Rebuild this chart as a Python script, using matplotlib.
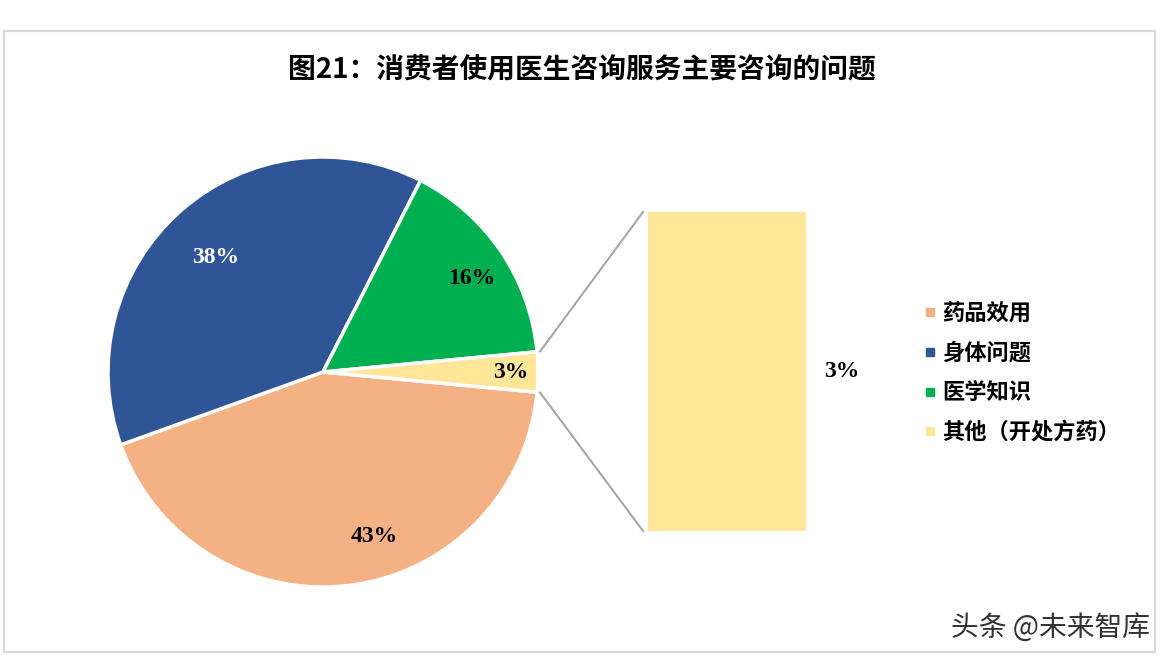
import numpy as np
import matplotlib
matplotlib.use("Agg")
import matplotlib.pyplot as plt
from matplotlib.lines import Line2D
from matplotlib.patches import Rectangle

# data
labels = ["药品效用", "身体问题", "医学知识", "其他（开处方药）"]
values = [43, 38, 16, 3]
colors = ["#F4B183", "#2F5597", "#00B050", "#FFE699"]
bar_labels = ["其他（开处方药）"]
bar_values = [3]
title = "图21：消费者使用医生咨询服务主要咨询的问题"

cjk = ["Noto Sans CJK SC", "DejaVu Sans"]
serif = ["Liberation Serif", "DejaVu Serif"]

W, H = 1170, 661
fig = plt.figure(figsize=(W / 100, H / 100), dpi=100)
ax = fig.add_axes([0, 0, 1, 1])

# border of the chart area
fig.patches.append(Rectangle((4 / W, (H - 652) / H), 1151 / W, 621 / H,
                             transform=fig.transFigure, fill=False,
                             edgecolor="#D9D9D9", linewidth=1.6))

fig.text(582 / W, 1 - 70 / H, title, ha="center", va="center",
         fontsize=20, fontweight="bold", family=cjk)

# pie
cx, cy, R = 323, H - 372, 215
half = values[-1] / sum(values) * 360 / 2
wedges, _ = ax.pie(values, colors=colors, center=(cx, cy), radius=R,
                   startangle=-half, counterclock=False,
                   wedgeprops=dict(edgecolor="white", linewidth=2.5),
                   frame=True)
ax.set_xlim(0, W)
ax.set_ylim(0, H)
ax.set_aspect("equal")
ax.axis("off")

# labels inside pie
lab_rad = [0.80, 0.73, 0.82, 0.875]
lab_shift = [10, 2, -2, 0]
lab_color = ["black", "white", "black", "black"]
for w, v, rf, sh, c in zip(wedges, values, lab_rad, lab_shift, lab_color):
    mid = np.deg2rad((w.theta1 + w.theta2) / 2 + sh)
    ax.text(cx + rf * R * np.cos(mid), cy + rf * R * np.sin(mid), f"{v}%",
            ha="center", va="center", fontsize=17, fontweight="bold",
            family=serif, color=c)

# bar of the "other" slice
bar_x, bar_w, bar_bottom = 727, 158, H - 531
scale = 319 / sum(bar_values)
bottom = bar_bottom
for bl, bv in zip(bar_labels, bar_values):
    ax.bar(bar_x, bv * scale, width=bar_w, bottom=bottom, color=colors[-1],
           edgecolor="none")
    ax.text(bar_x + bar_w / 2 + 36, bottom + bv * scale / 2, f"{bv}%",
            ha="center", va="center", fontsize=17, fontweight="bold",
            family=serif, color="black")
    bottom += bv * scale

# connector lines
top_ang = np.deg2rad(half)
bot_ang = np.deg2rad(-half)
x0 = bar_x - bar_w / 2 - 5
ax.plot([cx + (R + 3) * np.cos(top_ang), x0],
        [cy + (R + 3) * np.sin(top_ang), bottom], color="#A6A6A6", lw=1.5)
ax.plot([cx + (R + 3) * np.cos(bot_ang), x0],
        [cy + (R + 3) * np.sin(bot_ang), bar_bottom], color="#A6A6A6", lw=1.5)

# legend
handles = [Line2D([], [], marker="s", linestyle="none", markersize=6,
                  markerfacecolor=c, markeredgecolor=c) for c in colors]
fig.legend(handles, labels, loc="center left",
           bbox_to_anchor=(914 / W, 1 - 373 / H), frameon=False,
           prop=dict(family=cjk, size=16, weight="bold"),
           handlelength=0.6, handletextpad=0.25, labelspacing=0.75,
           borderaxespad=0)

fig.text(1150 / W, 1 - 628 / H, "头条 @未来智库", ha="right", va="center",
         fontsize=20, family=cjk, color="#333333")

fig.savefig("out.png", dpi=100)
